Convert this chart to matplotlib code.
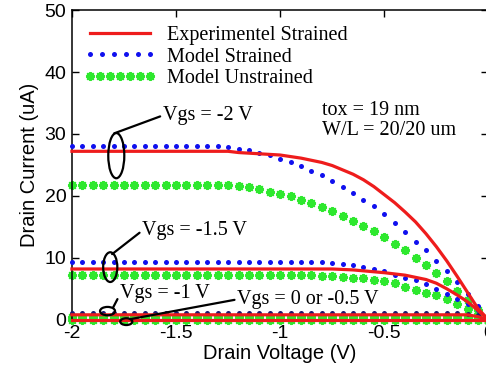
import matplotlib

matplotlib.use("Agg")

import matplotlib.pyplot as plt
import numpy as np
from matplotlib.legend_handler import HandlerLine2D
from matplotlib.patches import Ellipse

# drain voltage grid of the model points (V)
vd_model = np.linspace(-2.0, 0.0, 41)

# model, strained (uA)
model_strained = {
    "-2": [28.0, 28.0, 28.0, 28.0, 28.0, 28.0, 28.0, 28.0, 28.0, 28.0,
           28.0, 28.0, 28.0, 28.0, 28.0, 27.9, 27.6, 27.4, 27.0, 26.6,
           26.0, 25.4, 24.8, 24.1, 23.4, 22.4, 21.4, 20.5, 19.3, 18.3,
           17.0, 15.6, 14.2, 12.6, 11.2, 9.5, 7.9, 6.1, 4.1, 2.2, 0.0],
    "-1.5": [9.3, 9.3, 9.3, 9.3, 9.3, 9.3, 9.3, 9.3, 9.3, 9.3,
             9.3, 9.3, 9.3, 9.3, 9.3, 9.3, 9.3, 9.3, 9.3, 9.3,
             9.3, 9.3, 9.3, 9.3, 9.3, 9.2, 9.0, 8.8, 8.5, 8.2,
             7.9, 7.3, 6.8, 6.4, 5.7, 4.9, 4.1, 3.3, 2.5, 1.6, 0.0],
    "-1": [1.1, 1.1, 1.1, 1.1, 1.1, 1.1, 1.1, 1.1, 1.1, 1.1,
           1.1, 1.1, 1.1, 1.1, 1.1, 1.1, 1.1, 1.1, 1.1, 1.1,
           1.1, 1.1, 1.1, 1.1, 1.1, 1.1, 1.1, 1.1, 1.1, 1.1,
           1.1, 1.1, 1.1, 1.1, 1.1, 1.1, 1.1, 1.1, 1.0, 0.7, 0.0],
}

# model, unstrained (uA)
model_unstrained = {
    "-2": [21.8, 21.8, 21.8, 21.8, 21.8, 21.8, 21.8, 21.8, 21.8, 21.8,
           21.8, 21.8, 21.8, 21.8, 21.8, 21.7, 21.6, 21.4, 21.1, 20.7,
           20.3, 20.0, 19.4, 18.9, 18.2, 17.5, 16.7, 16.0, 15.2, 14.4,
           13.3, 12.3, 11.2, 10.0, 8.8, 7.5, 6.2, 4.7, 3.2, 1.6, 0.0],
    "-1.5": [7.2, 7.2, 7.2, 7.2, 7.2, 7.2, 7.2, 7.2, 7.2, 7.2,
             7.2, 7.2, 7.2, 7.2, 7.2, 7.2, 7.2, 7.2, 7.2, 7.2,
             7.2, 7.2, 7.2, 7.2, 7.1, 7.0, 6.9, 6.8, 6.7, 6.5,
             6.3, 5.9, 5.3, 4.8, 4.4, 4.0, 3.3, 2.5, 1.8, 1.0, 0.0],
    "-1": [0.4, 0.4, 0.4, 0.4, 0.4, 0.4, 0.4, 0.4, 0.4, 0.4,
           0.4, 0.4, 0.4, 0.4, 0.4, 0.4, 0.4, 0.4, 0.4, 0.4,
           0.4, 0.4, 0.4, 0.4, 0.4, 0.4, 0.4, 0.4, 0.4, 0.4,
           0.4, 0.4, 0.4, 0.4, 0.4, 0.4, 0.4, 0.4, 0.4, 0.3, 0.0],
    "0": [0.0] * 41,
}

# experimental, strained (uA)
exp_vd = {
    "-2": [-2.0, -1.25, -1.2, -1.1, -1.0, -0.9, -0.8, -0.75, -0.7, -0.65,
           -0.6, -0.55, -0.5, -0.45, -0.4, -0.35, -0.3, -0.25, -0.2, -0.15,
           -0.1, -0.05, 0.0],
    "-1.5": [-2.0, -0.75, -0.65, -0.6, -0.5, -0.4, -0.3, -0.25, -0.2, -0.15,
             -0.1, -0.05, 0.0],
    "-1": [-2.0, -0.1, -0.05, 0.0],
    "0": [-2.0, 0.0],
}
exp_id = {
    "-2": [27.2, 27.2, 27.0, 26.8, 26.6, 26.1, 25.4, 24.9, 24.2, 23.5,
           22.6, 21.5, 20.2, 18.9, 17.4, 15.8, 13.9, 11.8, 9.5, 7.0,
           4.4, 1.8, 0.0],
    "-1.5": [8.2, 8.2, 8.05, 7.9, 7.6, 7.2, 6.5, 5.9, 5.0, 4.0,
             2.9, 1.5, 0.0],
    "-1": [0.8, 0.8, 0.5, 0.0],
    "0": [0.0, 0.0],
}

RED = "#ee1c1c"
BLUE = "#1010ee"
GREEN = "#2ee82e"
SERIF = "Liberation Serif"

plt.rcParams["font.family"] = "Liberation Sans"

fig = plt.figure(figsize=(4.86, 3.74), dpi=100)
ax = fig.add_axes([0.148, 0.145, 0.857, 0.828])

star = (8, 2, 0)
for key, vals in model_unstrained.items():
    ax.plot(vd_model, vals, linestyle="none", marker=star, ms=6.5, mew=1.4,
            color=GREEN, clip_on=False, zorder=2)
for key, vals in model_strained.items():
    col = "#1a1a70" if key == "-1" else BLUE
    ax.plot(vd_model, vals, linestyle="none", marker="o", ms=3.6, mew=0,
            color=col, clip_on=False, zorder=3)
for key in exp_vd:
    ax.plot(exp_vd[key], exp_id[key], color=RED, lw=2.3, clip_on=False,
            solid_joinstyle="round", zorder=4)

# legend proxies
h_exp, = ax.plot([], [], color=RED, lw=2.3)
h_str, = ax.plot([], [], linestyle="none", marker="o", ms=3.6, mew=0, color=BLUE)
h_uns, = ax.plot([], [], linestyle="none", marker=star, ms=6.5, mew=1.4, color=GREEN)
ax.legend([h_exp, h_str, h_uns],
          ["Experimentel Strained", "Model Strained", "Model Unstrained"],
          loc="upper left", bbox_to_anchor=(0.028, 0.949), frameon=False,
          borderpad=0, borderaxespad=0, handlelength=3.6, handletextpad=0.55,
          labelspacing=0.12, numpoints=7,
          handler_map={h_str: HandlerLine2D(numpoints=6)},
          prop={"family": SERIF, "size": 14.5})

# ellipses marking each Vgs group, with leader lines
ellipses = [(-1.787, 26.5, 0.077, 7.3), (-1.816, 8.5, 0.068, 4.8),
            (-1.829, 1.4, 0.072, 1.35), (-1.739, -0.3, 0.058, 1.1)]
for cx, cy, w, h in ellipses:
    ax.add_patch(Ellipse((cx, cy), w, h, fill=False, ec="black", lw=1.6,
                         clip_on=False, zorder=5))

notes = [("Vgs = -2 V", (-1.797, 30.1), (-1.563, 33.0)),
         ("Vgs = -1.5 V", (-1.807, 10.6), (-1.662, 14.4)),
         ("Vgs = -1 V", (-1.802, 2.0), (-1.768, 4.2)),
         ("Vgs = 0 or -0.5 V", (-1.72, 0.1), (-1.206, 3.3))]
for txt, xy, xyt in notes:
    ax.annotate(txt, xy=xy, xytext=xyt, ha="left", va="center",
                family=SERIF, fontsize=14.5, zorder=6,
                arrowprops=dict(arrowstyle="-", lw=1.6, color="black",
                                shrinkA=0, shrinkB=0, relpos=(0, 0.5)))

ax.text(-0.797, 33.8, "tox = 19 nm", family=SERIF, fontsize=14.5, va="center")
ax.text(-0.797, 30.5, "W/L = 20/20 um", family=SERIF, fontsize=14.5, va="center")

ax.set_xlim(-2, 0)
ax.set_ylim(0, 50)
ax.set_xticks([-2, -1.5, -1, -0.5, 0])
ax.set_xticklabels(["-2", "-1.5", "-1", "-0.5", "0"])
ax.set_yticks([0, 10, 20, 30, 40, 50])
ax.tick_params(direction="in", length=5, width=1, top=True, right=True,
               labelsize=14, pad=4)
for sp in ax.spines.values():
    sp.set_linewidth(1.1)
ax.set_xlabel("Drain Voltage (V)", fontsize=14.5, labelpad=1)
ax.set_ylabel("Drain Current (uA)", fontsize=14.5, labelpad=4)

fig.savefig("out.png", dpi=100)
